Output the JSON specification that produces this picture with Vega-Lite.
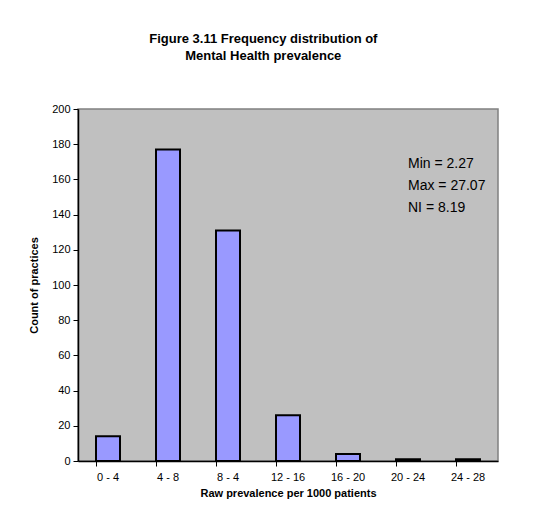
{
  "$schema": "https://vega.github.io/schema/vega-lite/v6.json",
  "width": 420,
  "height": 352,
  "padding": {"left": 28, "top": 33, "right": 46, "bottom": 30},
  "background": "white",
  "title": {
    "text": ["Figure 3.11 Frequency distribution of", "Mental Health prevalence"],
    "font": "Liberation Sans",
    "fontSize": 13,
    "fontWeight": "bold",
    "color": "black",
    "anchor": "middle",
    "frame": "bounds",
    "lineHeight": 17,
    "offset": 40
  },
  "config": {
    "view": {"fill": "#C0C0C0", "stroke": "#808080", "strokeWidth": 1.5},
    "axis": {
      "labelFont": "Liberation Sans",
      "labelFontSize": 11,
      "labelColor": "black",
      "titleFont": "Liberation Sans",
      "titleFontSize": 11,
      "titleFontWeight": "bold",
      "titleColor": "black",
      "domainColor": "black",
      "tickColor": "black",
      "grid": false,
      "labelOverlap": false
    }
  },
  "datasets": {
    "bins": [
      {"range": "0 - 4", "count": 14},
      {"range": "4 - 8", "count": 177},
      {"range": "8 - 4", "count": 131},
      {"range": "12 - 16", "count": 26},
      {"range": "16 - 20", "count": 4},
      {"range": "20 - 24", "count": 1},
      {"range": "24 - 28", "count": 1}
    ],
    "notes": [
      {"label": "Min = 2.27", "range": "20 - 24", "count": 168.5},
      {"label": "Max = 27.07", "range": "20 - 24", "count": 156},
      {"label": "NI = 8.19", "range": "20 - 24", "count": 143.5}
    ]
  },
  "layer": [
    {
      "data": {"name": "bins"},
      "mark": {"type": "bar", "fill": "#9999FF", "stroke": "black", "strokeWidth": 2},
      "encoding": {
        "x": {
          "field": "range",
          "type": "nominal",
          "sort": null,
          "scale": {"paddingInner": 0.6, "paddingOuter": 0.3},
          "axis": {"labelAngle": 0, "bandPosition": 0, "tickSize": 5, "labelPadding": 5, "title": "Raw prevalence per 1000 patients", "titlePadding": 5, "domainWidth": 1.5}
        },
        "y": {
          "field": "count",
          "type": "quantitative",
          "scale": {"domain": [0, 200]},
          "axis": {"values": [0, 20, 40, 60, 80, 100, 120, 140, 160, 180, 200], "labelOverlap": false, "tickCount": 11, "tickSize": 5, "labelPadding": 3, "title": "Count of practices", "titlePadding": 12, "domainWidth": 1.5}
        }
      }
    },
    {
      "data": {"name": "notes"},
      "mark": {"type": "text", "align": "left", "baseline": "middle", "font": "Liberation Sans", "fontSize": 14, "color": "black"},
      "encoding": {
        "x": {
          "field": "range",
          "type": "nominal",
          "sort": null,
          "axis": {"labelAngle": 0, "bandPosition": 0, "tickSize": 5, "labelPadding": 5, "title": "Raw prevalence per 1000 patients", "titlePadding": 5, "domainWidth": 1.5}
        },
        "y": {
          "field": "count",
          "type": "quantitative",
          "axis": {"values": [0, 20, 40, 60, 80, 100, 120, 140, 160, 180, 200], "labelOverlap": false, "tickCount": 11, "tickSize": 5, "labelPadding": 3, "title": "Count of practices", "titlePadding": 12, "domainWidth": 1.5}
        },
        "text": {"field": "label"}
      }
    }
  ]
}
